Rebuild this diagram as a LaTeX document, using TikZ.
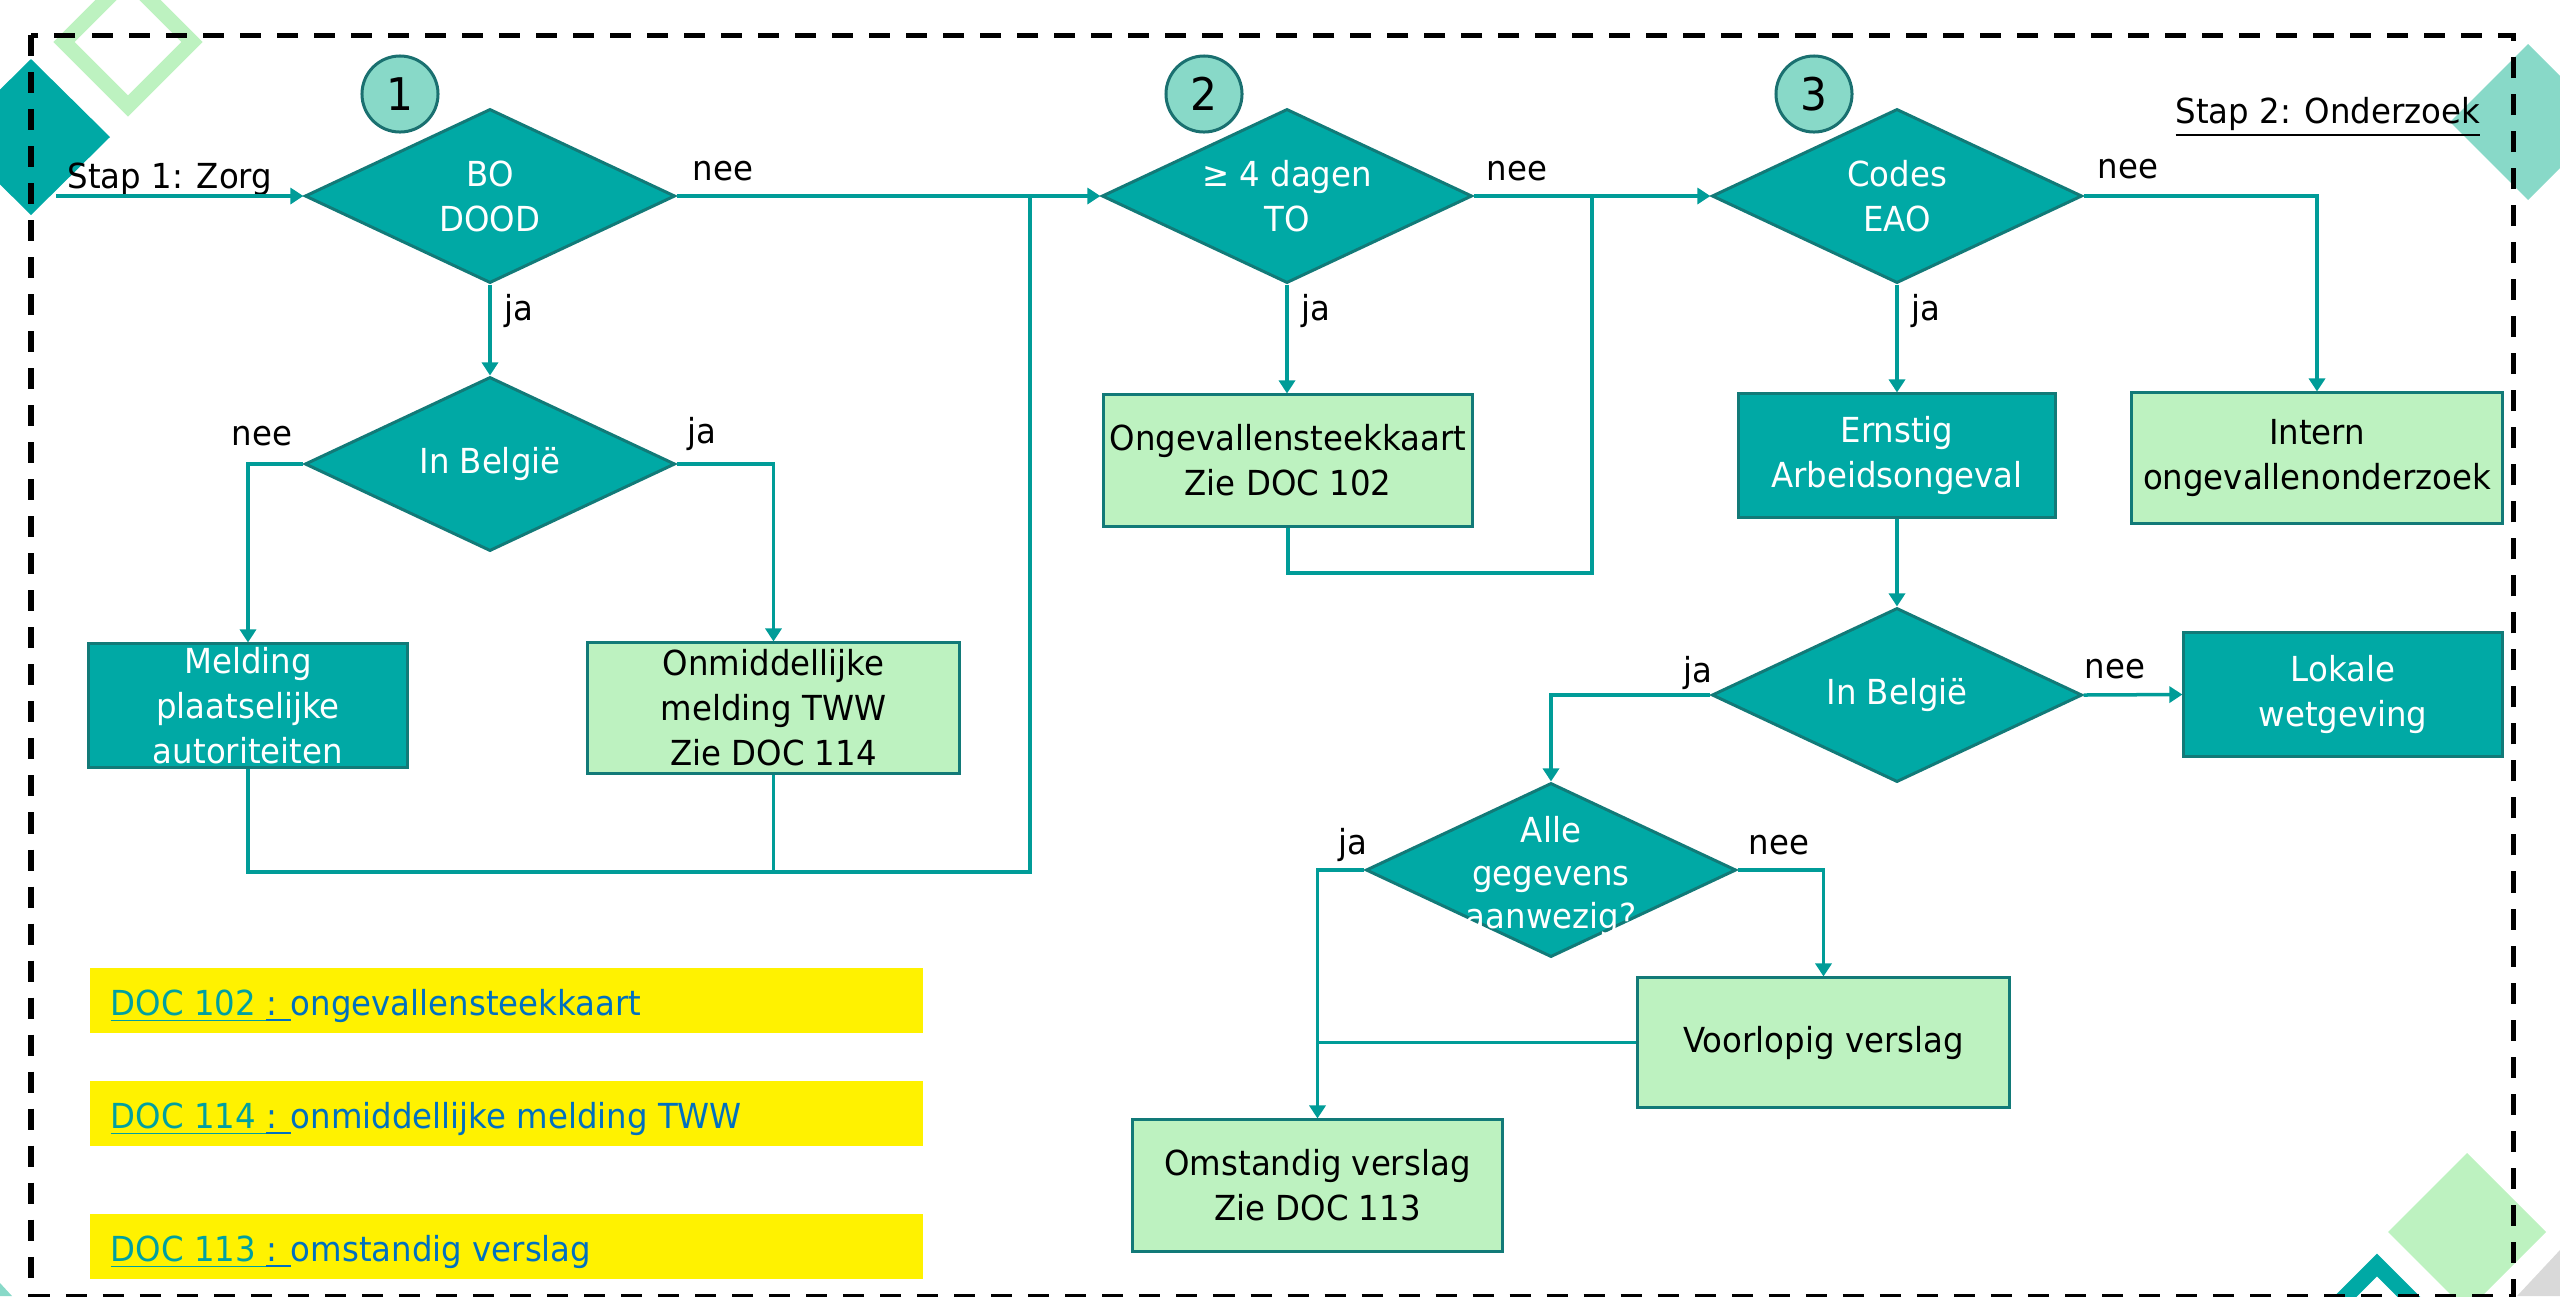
\documentclass[tikz,border=0pt]{standalone}
\usepackage{fontspec}
\setmainfont{DejaVu Sans}[FakeStretch=0.94]
\usetikzlibrary{shapes.geometric,arrows.meta}
\definecolor{teal1}{RGB}{0,169,165}
\definecolor{tborder}{RGB}{18,122,120}
\definecolor{conncol}{RGB}{0,156,152}
\definecolor{lgreen}{RGB}{189,242,192}
\definecolor{circf}{RGB}{136,217,200}
\definecolor{circb}{RGB}{26,112,112}
\definecolor{docteal}{RGB}{0,160,160}
\definecolor{docblue}{RGB}{0,112,192}
\definecolor{gray1}{RGB}{217,217,217}
\begin{document}
\begin{tikzpicture}[x=0.01cm,y=-0.01cm,
  font=\fontsize{9.8}{12.8}\selectfont,
  dia/.style={diamond, draw=tborder, line width=0.03cm, fill=teal1, aspect=2.13,
    minimum width=3.70cm, minimum height=1.74cm, inner sep=0pt},
  box/.style={rectangle, draw=tborder, line width=0.03cm, inner sep=0pt},
  tbox/.style={box, fill=teal1},
  gbox/.style={box, fill=lgreen},
  txtw/.style={text=white, align=center, inner sep=0pt},
  txtb/.style={text=black, align=center, inner sep=0pt},
  lab/.style={inner sep=0pt, anchor=base west},
  conn/.style={draw=conncol, line width=0.035cm},
  arr/.style={conn, -{Triangle[width=0.16cm,length=0.13cm]}},
  numc/.style={circle, draw=circb, fill=circf, line width=0.03cm, minimum size=0.76cm,
    inner sep=0pt, font=\fontsize{12.8}{14}\selectfont},
  legbox/.style={rectangle, fill=yellow, inner sep=0pt, minimum width=8.33cm, minimum height=0.65cm},
]
\useasboundingbox (0,0) rectangle (2560,1296);

% decorative shapes
\draw[lgreen, line width=0.15cm] (128,-22) -- (192,42) -- (128,106) -- (64,42) -- cycle;
\fill[teal1] (31,59) -- (110,137) -- (31,215) -- (-48,137) -- cycle;
\fill[circf] (2528,44) -- (2606,122) -- (2528,200) -- (2450,122) -- cycle;
\fill[lgreen] (2467,1153) -- (2546,1232) -- (2467,1311) -- (2388,1232) -- cycle;
\draw[teal1, line width=0.16cm] (2377,1265) -- (2445,1333) -- (2377,1401) -- (2309,1333) -- cycle;
\fill[gray1] (2517,1296) -- (2560,1250) -- (2560,1296) -- cycle;
\fill[circf] (0,1283) -- (12,1296) -- (0,1296) -- cycle;

% dashed frame
\draw[black, line width=0.05cm, dash pattern=on 0.21cm off 0.16cm] (31,35) rectangle (2513,1296);

% titles
\node[lab] (stap1) at (67,188) {Stap 1: Zorg};
\node[lab] (stap2) at (2175,123) {\underline{Stap 2: Onderzoek}};

% number circles
\node[numc] (c1) at (400,94) {1};
\node[numc] (c2) at (1204,94) {2};
\node[numc] (c3) at (1814,94) {3};

% diamonds
\node[dia] (d1) at (490,196) {};
\node[txtw] (d1t) at (d1) {BO\\DOOD};
\node[dia] (d1b) at (490,464) {};
\node[txtw] (d1bt) at (d1b) {In België};
\node[dia] (d2) at (1287,196) {};
\node[txtw] (d2t) at (d2) {≥ 4 dagen\\TO};
\node[dia] (d3) at (1897,196) {};
\node[txtw] (d3t) at (d3) {Codes\\EAO};
\node[dia] (d4) at (1897,695) {};
\node[txtw] (d4t) at (d4) {In België};
\node[dia] (d5) at (1551,870) {};
\node[txtw, font=\fontsize{9.8}{12.2}\selectfont] (d5t) at (1551,876) {Alle\\gegevens\\aanwezig?};

% boxes
\node[tbox, minimum width=3.18cm, minimum height=1.23cm] (mel) at (248,705.5) {};
\node[txtw] (melt) at (mel) {Melding\\plaatselijke\\autoriteiten};
\node[gbox, minimum width=3.71cm, minimum height=1.30cm] (onm) at (773.5,708) {};
\node[txtb] (onmt) at (onm) {Onmiddellijke\\melding TWW\\Zie DOC 114};
\node[gbox, minimum width=3.69cm, minimum height=1.31cm] (ong) at (1288,460.5) {};
\node[txtb] (ongt) at (ong) {Ongevallensteekkaart\\Zie DOC 102};
\node[tbox, minimum width=3.17cm, minimum height=1.23cm] (ern) at (1897,455.5) {};
\node[txtw] (ernt) at (ern) {Ernstig\\Arbeidsongeval};
\node[gbox, minimum width=3.70cm, minimum height=1.30cm] (int) at (2317,458) {};
\node[txtb] (intt) at (int) {Intern\\ongevallenonderzoek};
\node[tbox, minimum width=3.18cm, minimum height=1.23cm] (lok) at (2343,694.5) {};
\node[txtw] (lokt) at (lok) {Lokale\\wetgeving};
\node[gbox, minimum width=3.71cm, minimum height=1.29cm] (voo) at (1823.5,1042.5) {};
\node[txtb] (voot) at (voo) {Voorlopig verslag};
\node[gbox, minimum width=3.69cm, minimum height=1.31cm] (oms) at (1317.5,1185.5) {};
\node[txtb] (omst) at (oms) {Omstandig verslag\\Zie DOC 113};

% legend
\node[legbox] (l1) at (506.5,1000.5) {};
\node[lab] (l1t) at (110,1015) {\textcolor{docteal}{\underline{DOC 102 }}\textcolor{docblue}{\underline{: }ongevallensteekkaart}};
\node[legbox] (l2) at (506.5,1113.5) {};
\node[lab] (l2t) at (110,1128) {\textcolor{docteal}{\underline{DOC 114 }}\textcolor{docblue}{\underline{: }onmiddellijke melding TWW}};
\node[legbox] (l3) at (506.5,1246.5) {};
\node[lab] (l3t) at (110,1261) {\textcolor{docteal}{\underline{DOC 113 }}\textcolor{docblue}{\underline{: }omstandig verslag}};

% coordinates
\coordinate (s0) at (56,196);
\coordinate (j1) at (1030,196);
\coordinate (j1b) at (1030,872);
\coordinate (j2) at (1592,196);
\coordinate (j2b) at (1592,573);

% connectors
\draw[arr] (s0) -- (d1.west);
\draw[arr] (d1.east) -- (d2.west);
\draw[arr] (d1.south) -- (d1b.north);
\draw[arr] (d1b.west) -| (mel.north);
\draw[arr] (d1b.east) -| (onm.north);
\draw[conn] (mel.south) |- (j1b) -- (j1);
\draw[conn] (onm.south) -- (onm.south |- j1b);
\draw[arr] (d2.south) -- (d2.south |- ong.north);
\draw[arr] (d2.east) -- (d3.west);
\draw[conn] (ong.south) |- (j2b) -- (j2);
\draw[arr] (d3.south) -- (ern.north);
\draw[arr] (d3.east) -| (int.north);
\draw[arr] (ern.south) -- (d4.north);
\draw[arr] (d4.east) -- (lok.west);
\draw[arr] (d4.west) -| (d5.north);
\draw[arr] (d5.west) -| (oms.north);
\draw[arr] (d5.east) -| (voo.north);
\draw[conn] (voo.west) -- (voo.west -| oms.north);

% connector labels
\node[lab] (n1) at (692,180) {nee};
\node[lab] (y1) at (504,320) {ja};
\node[lab] (n1b) at (231,445) {nee};
\node[lab] (y1b) at (687,443) {ja};
\node[lab] (y2) at (1301,320) {ja};
\node[lab] (n2) at (1486,180) {nee};
\node[lab] (y3) at (1911,320) {ja};
\node[lab] (n3) at (2097,178) {nee};
\node[lab] (n4) at (2084,678) {nee};
\node[lab] (y4) at (1683,682) {ja};
\node[lab] (y5) at (1338,854) {ja};
\node[lab] (n5) at (1748,854) {nee};
\end{tikzpicture}
\end{document}
